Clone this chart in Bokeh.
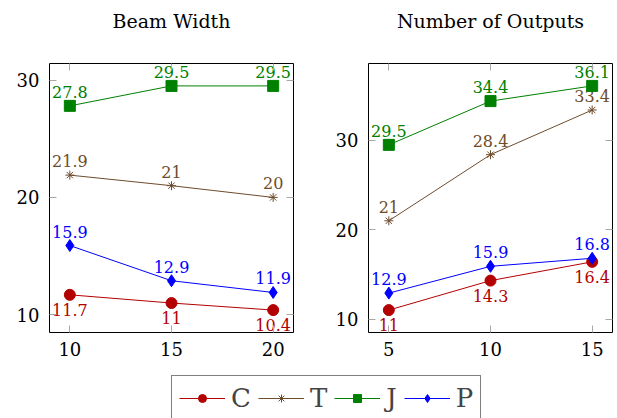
from bokeh.plotting import figure
from bokeh.layouts import column, row
from bokeh.models import ColumnDataSource, LinearAxis, Range1d, FixedTicker, Legend, LegendItem
from bokeh.embed import file_html
from bokeh.resources import INLINE
from bokeh.core.properties import value

# ---- data ----
beam_width = [10, 15, 20]
beam_C = [11.7, 11.0, 10.4]
beam_T = [21.9, 21.0, 20.0]
beam_J = [27.8, 29.5, 29.5]
beam_P = [15.9, 12.9, 11.9]

num_outputs = [5, 10, 15]
out_C = [11.0, 14.3, 16.4]
out_T = [21.0, 28.4, 33.4]
out_J = [29.5, 34.4, 36.1]
out_P = [12.9, 15.9, 16.8]

series_names = ["C", "T", "J", "P"]
beam_ticks = [10, 15, 20]
out_ticks = [5, 10, 15]
y_ticks = [10, 20, 30]
titles = ["Beam Width", "Number of Outputs"]

# ---- styles ----
FONT = "DejaVu Serif"
colors = {"C": "#b30000", "T": "#6e4c2c", "J": "#008000", "P": "#0000ff"}
markers = {"C": "circle", "T": "asterisk", "J": "square", "P": "diamond"}
msizes = {"C": 11, "T": 9, "J": 11, "P": 12}
below = {"C": True, "T": False, "J": False, "P": False}
TICK_COL = "#a8a8a8"


def fmt(v):
    return f"{v:g}"


def padded(lo, hi):
    d = (hi - lo) * 0.1
    return Range1d(lo - d, hi + d)


def style_axis(ax, ticks, show_labels, standoff):
    ax.ticker = FixedTicker(ticks=ticks)
    ax.minor_tick_line_color = None
    ax.major_tick_in = 7
    ax.major_tick_out = 0
    ax.major_tick_line_color = TICK_COL
    ax.axis_line_color = None
    ax.major_label_text_font = FONT
    ax.major_label_standoff = standoff
    if show_labels:
        ax.major_label_text_font_size = "18px"
        ax.major_label_text_color = "black"
    else:
        ax.major_label_text_font_size = "0px"
        ax.major_label_text_color = None


def add_series(p, name, xs, ys, with_labels=True):
    c = colors[name]
    src = ColumnDataSource(dict(x=xs, y=ys, lab=[fmt(v) for v in ys]))
    r1 = p.line("x", "y", source=src, line_color=c, line_width=1)
    if markers[name] == "asterisk":
        r2 = p.scatter("x", "y", source=src, marker="asterisk", size=msizes[name],
                       line_color=c, line_width=1)
    else:
        r2 = p.scatter("x", "y", source=src, marker=markers[name], size=msizes[name],
                       fill_color=c, line_color=c)
    if with_labels:
        if below[name]:
            p.text("x", "y", text="lab", source=src, text_color=c,
                   text_font=value(FONT), text_font_size="16px",
                   text_align="center", text_baseline="top", y_offset=9)
        else:
            p.text("x", "y", text="lab", source=src, text_color=c,
                   text_font=value(FONT), text_font_size="16px",
                   text_align="center", text_baseline="bottom", y_offset=-8)
    return r1, r2


def make_panel(title, xs, series, xticks, width, border_right):
    all_y = [v for s in series for v in s]
    p = figure(width=width, height=370, output_backend="svg",
               toolbar_location=None,
               x_range=padded(min(xs), max(xs)),
               y_range=padded(min(all_y), max(all_y)),
               min_border_left=49, min_border_right=border_right,
               min_border_top=63, min_border_bottom=38)
    p.grid.visible = False
    p.outline_line_color = "black"
    p.outline_line_width = 1
    p.background_fill_color = "white"
    p.border_fill_color = "white"
    style_axis(p.xaxis[0], xticks, True, 9)
    style_axis(p.yaxis[0], y_ticks, True, 10)
    ra = LinearAxis()
    style_axis(ra, y_ticks, False, 0)
    p.add_layout(ra, "right")
    # top axis: ticks only, and it carries the panel title well above the frame
    ta = LinearAxis(axis_label=title)
    style_axis(ta, xticks, False, 0)
    ta.axis_label_text_font = FONT
    ta.axis_label_text_font_size = "19px"
    ta.axis_label_text_font_style = "normal"
    ta.axis_label_text_color = "black"
    ta.axis_label_standoff = 32
    p.add_layout(ta, "above")
    for name, ys in zip(series_names, series):
        add_series(p, name, xs, ys)
    return p


p1 = make_panel(titles[0], beam_width, [beam_C, beam_T, beam_J, beam_P], beam_ticks, 319, 26)
p2 = make_panel(titles[1], num_outputs, [out_C, out_T, out_J, out_P], out_ticks, 295, 2)

# ---- legend strip (data lie outside its ranges; only the legend shows) ----
pleg = figure(width=614, height=48, output_backend="svg", toolbar_location=None,
              x_axis_type=None, y_axis_type=None, min_border=0,
              x_range=Range1d(-2, -1), y_range=Range1d(-2, -1))
pleg.grid.visible = False
pleg.outline_line_color = None
items = []
for name, ys in zip(series_names, [beam_C, beam_T, beam_J, beam_P]):
    r1, r2 = add_series(pleg, name, beam_width, ys, with_labels=False)
    items.append(LegendItem(label=name, renderers=[r1, r2]))
legend = Legend(items=items, orientation="horizontal", location=(171, -3))
legend.label_text_font = FONT
legend.label_text_font_size = "26px"
legend.glyph_width = 46
legend.glyph_height = 20
legend.label_width = 1
legend.spacing = 7
legend.label_standoff = 6
legend.padding = 7
legend.margin = 0
legend.border_line_color = "black"
legend.border_line_width = 1
legend.background_fill_color = "white"
pleg.add_layout(legend)

layout = column(row(p1, p2), pleg)
open("out.html", "w").write(file_html(layout, INLINE))
